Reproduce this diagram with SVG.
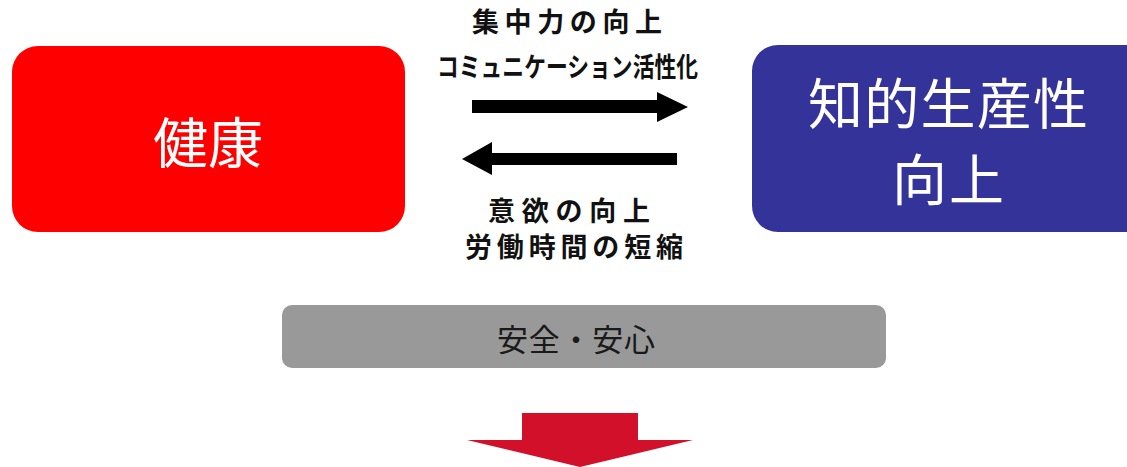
<svg xmlns="http://www.w3.org/2000/svg" width="1127" height="467" viewBox="0 0 1127 467">
<style>
text{font-family:"Noto Sans CJK JP","Noto Sans CJK SC",sans-serif;text-anchor:middle}
.big{fill:#fff;font-size:55px}
.lbl{fill:#111;font-weight:700;font-size:27px}
</style>
<rect width="1127" height="467" fill="#fff"/>
<g id="node-kenko">
<rect x="12" y="46" width="393" height="186" rx="26" fill="#ff0000"/>
<text class="big" x="208" y="163">健康</text>
</g>
<g id="node-chiteki">
<rect x="752" y="45" width="400" height="187" rx="26" fill="#333399"/>
<text class="big" x="948" y="124" font-size="52" textLength="280" lengthAdjust="spacing">知的生産性</text>
<text class="big" x="948" y="200" font-size="52" textLength="112" lengthAdjust="spacing">向上</text>
</g>
<g id="node-anzen">
<rect x="282" y="305" width="604" height="63" rx="10" fill="#999999"/>
<text x="576" y="351" font-size="31" fill="#1a1a1a" textLength="158" lengthAdjust="spacing">安全・安心</text>
</g>
<g id="connectors">
<polygon points="472,100 657,100 657,92 688,107 657,122 657,113 472,113" fill="#000"/>
<polygon points="677,153 492,153 492,142 462,159 492,175 492,165 677,165" fill="#000"/>
<polygon points="522,413 638,413 638,440 693,440 580,467 467,440 522,440" fill="#d2102a"/>
<text class="lbl" x="567" y="32" font-size="25" textLength="190" lengthAdjust="spacing">集中力の向上</text>
<text class="lbl" x="567.5" y="77" textLength="261" lengthAdjust="spacingAndGlyphs">コミュニケーション活性化</text>
<text class="lbl" x="569" y="221" textLength="162" lengthAdjust="spacing">意欲の向上</text>
<text class="lbl" x="574" y="257" textLength="218" lengthAdjust="spacing">労働時間の短縮</text>
</g>
</svg>
